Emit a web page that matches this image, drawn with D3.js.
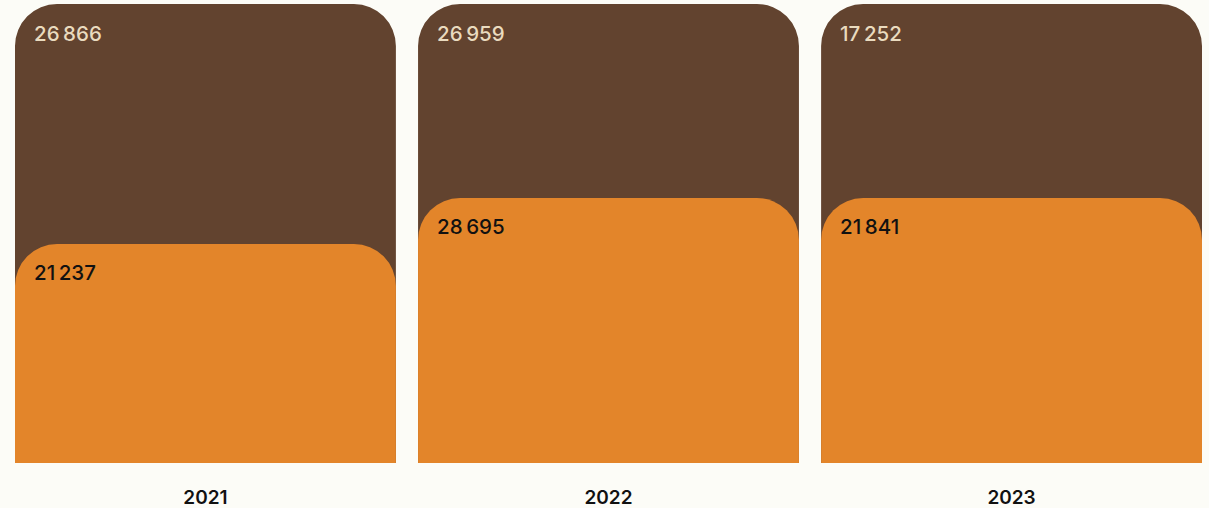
<!DOCTYPE html>
<html>
<head>
<meta charset="utf-8">
<script src="https://cdn.jsdelivr.net/npm/d3@7"></script>
<style>
  html, body { margin: 0; padding: 0; background: #fcfcf7; }
  svg { display: block; }
  text { font-family: Inter, "Noto Sans", sans-serif; }
</style>
</head>
<body>
<svg id="chart" width="1209" height="508"></svg>
<script>
// Yearly figures: the dark panel value and the orange bar value
const years = ["2021", "2022", "2023"];
const darkValues = [26866, 26959, 17252];
const orangeValues = [21237, 28695, 21841];

// Share range mapped onto the orange bar height; shares above the top
// are drawn at full bar height so the dark label keeps its room
const shareDomain = [0.089, 0.5156];

const W = 1209, H = 508;
const margin = { top: 4, right: 7, bottom: 45, left: 15 };
const radius = 42;

const svg = d3.select("#chart");

const x = d3.scaleBand()
  .domain(years)
  .range([margin.left, W - margin.right])
  .paddingInner(0.055)
  .paddingOuter(0);

const plotBottom = H - margin.bottom;
const plotTop = margin.top;

// Orange bar height follows its share of the yearly total
const y = d3.scaleLinear()
  .domain(shareDomain)
  .range([plotBottom, plotBottom - 265])
  .clamp(true);

const fmt = v => d3.format(",")(v).replace(/,/g, "\u2009");

const data = years.map((yr, i) => ({
  year: yr,
  dark: darkValues[i],
  orange: orangeValues[i],
  share: orangeValues[i] / (orangeValues[i] + darkValues[i])
}));

// Rectangle with rounded top corners only
function topRounded(x0, y0, w, h, r) {
  r = Math.min(r, w / 2, h);
  return `M${x0},${y0 + h}V${y0 + r}A${r},${r} 0 0 1 ${x0 + r},${y0}` +
         `H${x0 + w - r}A${r},${r} 0 0 1 ${x0 + w},${y0 + r}V${y0 + h}Z`;
}

const g = svg.selectAll("g.year")
  .data(data)
  .join("g")
  .attr("class", "year");

g.append("path")
  .attr("fill", "#62432f")
  .attr("d", d => topRounded(x(d.year), plotTop, x.bandwidth(), plotBottom - plotTop, radius));

g.append("path")
  .attr("fill", "#e3852a")
  .attr("d", d => topRounded(x(d.year), y(d.share), x.bandwidth(), plotBottom - y(d.share), radius));

g.append("text")
  .attr("x", d => x(d.year) + 19)
  .attr("y", plotTop + 36.5)
  .attr("fill", "#eadbbf")
  .attr("font-size", 20.5)
  .attr("font-weight", 500)
  .text(d => fmt(d.dark));

g.append("text")
  .attr("x", d => x(d.year) + 19)
  .attr("y", d => y(d.share) + 36)
  .attr("fill", "#111")
  .attr("font-size", 20.5)
  .attr("font-weight", 500)
  .text(d => fmt(d.orange));

g.append("text")
  .attr("x", d => x(d.year) + x.bandwidth() / 2)
  .attr("y", H - 4)
  .attr("text-anchor", "middle")
  .attr("fill", "#111")
  .attr("font-size", 19)
  .attr("font-weight", 600)
  .text(d => d.year);
</script>
</body>
</html>
